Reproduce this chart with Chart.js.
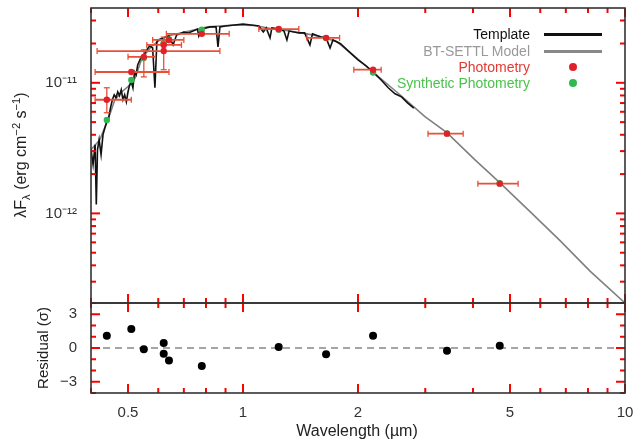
<!DOCTYPE html>
<html>
<head>
<meta charset="utf-8">
<script src="https://cdn.jsdelivr.net/npm/chart.js@4/dist/chart.umd.min.js"></script>
<style>
  body { margin: 0; background: #fff; }
  #wrap { position: relative; width: 638px; height: 445px; font-family: "Liberation Sans", Arial, sans-serif; color: #222; }
  canvas { position: absolute; left: 0; top: 0; }
  .lab { position: absolute; white-space: nowrap; }
  .rot { transform: translate(-50%, -50%) rotate(-90deg); }
  .leg { position: absolute; right: 108px; font-size: 14px; line-height: 14px; text-align: right; white-space: nowrap; transform: translateY(-50%); }
  .sym { position: absolute; }
  sub, sup { font-size: 70%; }
</style>
</head>
<body>
<div id="wrap">
  <canvas id="sed" width="638" height="445"></canvas>

  <div class="lab rot" style="left:21px; top:155px; font-size:16px;">λF<sub>λ</sub> (erg cm<sup>−2</sup> s<sup>−1</sup>)</div>
  <div class="lab rot" style="left:42px; top:348px; font-size:15px;">Residual (σ)</div>
  <div class="lab" style="left:357px; top:431px; font-size:16px; transform:translate(-50%,-50%);">Wavelength (µm)</div>

  <div class="leg" style="top:34px; color:#111;">Template</div>
  <div class="leg" style="top:51px; color:#999;">BT-SETTL Model</div>
  <div class="leg" style="top:67px; color:#e23a32;">Photometry</div>
  <div class="leg" style="top:83px; color:#4cc24c;">Synthetic Photometry</div>
  <div class="sym" style="left:544px; top:33px; width:58px; height:3px; background:#111;"></div>
  <div class="sym" style="left:544px; top:50px; width:58px; height:3px; background:#888;"></div>
  <div class="sym" style="left:569px; top:63px; width:8px; height:8px; border-radius:50%; background:#e0202a;"></div>
  <div class="sym" style="left:569px; top:79px; width:8px; height:8px; border-radius:50%; background:#30b850;"></div>
</div>

<script>
// ---- BT-SETTL model (smooth curve) ----
const modelWave = [0.400, 0.422, 0.443, 0.462, 0.482, 0.506, 0.522, 0.544, 0.578, 0.606, 0.636, 0.705, 0.810, 0.953,
    1.075, 1.198, 1.327, 1.470, 1.610, 1.762, 1.940, 2.190, 2.575, 2.994, 3.417, 4.043, 4.70, 5.74, 6.75, 8.10, 10.0];
const modelFlux = [3.08e-12, 3.67e-12, 5.22e-12, 7.42e-12, 8.54e-12, 9.65e-12, 1.09e-11, 1.55e-11, 1.92e-11, 2.13e-11,
    2.28e-11, 2.45e-11, 2.68e-11, 2.77e-11, 2.75e-11, 2.58e-11, 2.49e-11, 2.37e-11, 2.24e-11, 2.06e-11, 1.64e-11,
    1.21e-11, 8.10e-12, 5.50e-12, 4.15e-12, 2.58e-12, 1.72e-12, 9.83e-13, 6.22e-13, 3.61e-13, 2.06e-13];

// ---- template spectrum (noisy, with absorption dips) ----
const tmplWave = [0.400, 0.405, 0.410, 0.413, 0.416, 0.420, 0.425, 0.430, 0.435, 0.440, 0.445, 0.450, 0.455, 0.460,
    0.465, 0.470, 0.475, 0.480, 0.485, 0.490, 0.495, 0.500, 0.505, 0.510, 0.515, 0.520, 0.525, 0.530, 0.540, 0.550,
    0.560, 0.570, 0.580, 0.588, 0.595, 0.600, 0.620, 0.640, 0.656, 0.670, 0.700, 0.720, 0.760, 0.766, 0.780, 0.820,
    0.850, 0.860, 0.870, 0.900, 0.950, 1.000, 1.050, 1.100, 1.130, 1.150, 1.177, 1.190, 1.250, 1.280, 1.303, 1.320,
    1.400, 1.450, 1.497, 1.520, 1.600, 1.650, 1.690, 1.720, 1.800, 1.900, 2.000, 2.100, 2.200, 2.300, 2.400, 2.500,
    2.600, 2.700, 2.800];
const tmplFlux = [3.08e-12, 2.37e-12, 3.36e-12, 1.17e-12, 3.08e-12, 3.67e-12, 2.82e-12, 4.01e-12, 4.53e-12, 5.04e-12,
    5.41e-12, 6.45e-12, 7.42e-12, 8.10e-12, 7.68e-12, 8.54e-12, 7.96e-12, 8.84e-12, 7.42e-12, 8.10e-12, 7.16e-12,
    8.54e-12, 9.65e-12, 1.02e-11, 9.16e-12, 1.21e-11, 1.15e-11, 1.37e-11, 1.55e-11, 1.64e-11, 1.79e-11, 1.92e-11,
    1.85e-11, 9.16e-12, 2.06e-11, 2.13e-11, 2.21e-11, 2.28e-11, 1.95e-11, 2.32e-11, 2.45e-11, 2.41e-11, 2.58e-11,
    2.28e-11, 2.58e-11, 2.68e-11, 2.68e-11, 1.88e-11, 2.68e-11, 2.72e-11, 2.77e-11, 2.82e-11, 2.77e-11, 2.72e-11,
    2.45e-11, 2.63e-11, 2.21e-11, 2.63e-11, 2.58e-11, 2.49e-11, 2.13e-11, 2.49e-11, 2.41e-11, 2.41e-11, 1.95e-11,
    2.37e-11, 2.24e-11, 2.21e-11, 1.85e-11, 2.13e-11, 1.99e-11, 1.72e-11, 1.50e-11, 1.35e-11, 1.19e-11, 1.05e-11,
    9.16e-12, 8.24e-12, 7.80e-12, 7.00e-12, 6.40e-12];

// ---- photometry ----
const photWave   = [0.44, 0.51, 0.55, 0.62, 0.62, 0.64, 0.78, 1.24, 1.65, 2.19, 3.42, 4.70];
const photFlux   = [7.42e-12, 1.21e-11, 1.58e-11, 1.75e-11, 1.95e-11, 2.13e-11, 2.37e-11, 2.58e-11, 2.21e-11, 1.26e-11, 4.08e-12, 1.69e-12];
const photWaveLo = [0.41, 0.41, 0.50, 0.415, 0.56, 0.58, 0.63, 1.10, 1.47, 1.95, 3.05, 4.12];
const photWaveHi = [0.51, 0.64, 0.59, 0.87, 0.69, 0.70, 0.92, 1.40, 1.79, 2.30, 3.77, 5.25];
const photFluxLo = [5.90e-12, null, 1.11e-11, null, 1.26e-11, null, null, null, null, null, null, null];
const photFluxHi = [9.16e-12, null, 1.79e-11, null, 2.24e-11, null, null, null, null, null, null, null];
const synthFlux  = [5.2e-12, 1.05e-11, 1.55e-11, 2.0e-11, 2.0e-11, 2.15e-11, 2.55e-11, 2.55e-11, 2.2e-11, 1.2e-11, 4.1e-12, 1.7e-12];
const residual   = [1.1, 1.7, -0.1, 0.45, -0.5, -1.1, -1.6, 0.1, -0.55, 1.1, -0.25, 0.2];

// ---- axes ----
const xTicks = [0.4, 0.5, 0.6, 0.7, 0.8, 0.9, 1, 2, 3, 4, 5, 6, 7, 8, 9, 10];
const xLabelVals = [0.5, 1, 2, 5, 10];
const yTicks = [3e-13, 4e-13, 5e-13, 6e-13, 7e-13, 8e-13, 9e-13, 1e-12, 2e-12, 3e-12, 4e-12, 5e-12, 6e-12, 7e-12,
    8e-12, 9e-12, 1e-11, 2e-11, 3e-11];
const yLabelVals = [1e-11, 1e-12];
const yLabelText = ['10⁻¹¹', '10⁻¹²'];
const rTicks = [-4, -3, -2, -1, 0, 1, 2, 3, 4];
const rLabelVals = [-3, 0, 3];

const pts = (xs, ys) => xs.map((x, i) => ({ x: x, y: ys[i] }));

const hBars = [];
photWave.forEach((w, i) => {
    hBars.push({ x: photWaveLo[i], y: photFlux[i] }, { x: photWaveHi[i], y: photFlux[i] }, { x: photWaveHi[i], y: null });
});
const vBars = [];
photWave.forEach((w, i) => {
    if (photFluxLo[i] === null) return;
    vBars.push({ x: w, y: photFluxLo[i] }, { x: w, y: photFluxHi[i] }, { x: w, y: null });
});

const FONT = { family: '"Liberation Sans", Arial, sans-serif', size: 15 };
const INK = '#333';
const TICK = 'red';

const noPad = s => { s.paddingTop = 0; s.paddingBottom = 0; s.paddingLeft = 0; s.paddingRight = 0; };

const inTicks = {
    id: 'inTicks',
    afterDraw(chart) {
        const { ctx, chartArea: ca, scales } = chart;
        const x = scales.x, y = scales.y, yr = scales.yr;
        ctx.save();
        ctx.fillStyle = TICK;
        const vt = (px, py, len) => ctx.fillRect(px - 1, Math.min(py, py + len), 2, Math.abs(len));
        const ht = (px, py, len) => ctx.fillRect(Math.min(px, px + len), py - 1, Math.abs(len), 2);
        xTicks.forEach(v => {
            const px = x.getPixelForValue(v);
            const len = xLabelVals.includes(v) ? 9 : 5;
            vt(px, y.top, len);
            vt(px, y.bottom, -len);
            vt(px, yr.top, len);
            vt(px, yr.bottom, -len);
        });
        yTicks.forEach(v => {
            const py = y.getPixelForValue(v);
            const len = yLabelVals.includes(v) ? 9 : 5;
            ht(ca.left, py, len);
            ht(ca.right, py, -len);
        });
        rTicks.forEach(v => {
            const py = yr.getPixelForValue(v);
            const len = rLabelVals.includes(v) ? 9 : 5;
            ht(ca.left, py, len);
            ht(ca.right, py, -len);
        });
        ctx.strokeStyle = INK;
        ctx.lineWidth = 1.6;
        ctx.setLineDash([]);
        ctx.strokeRect(ca.left, y.top, ca.right - ca.left, y.bottom - y.top);
        ctx.strokeRect(ca.left, yr.top, ca.right - ca.left, yr.bottom - yr.top);
        ctx.restore();
    }
};

new Chart(document.getElementById('sed'), {
    type: 'line',
    data: {
        datasets: [
            { data: pts(photWave, photFlux), yAxisID: 'y', showLine: false, order: 0,
              pointRadius: 3.2, pointBackgroundColor: '#e0202a', pointBorderWidth: 0 },
            { data: vBars, yAxisID: 'y', order: 1, borderColor: '#e8503a', borderWidth: 1.3, spanGaps: false,
              pointStyle: 'line', pointRadius: 3, pointBorderColor: '#e8503a', pointBorderWidth: 1.3 },
            { data: hBars, yAxisID: 'y', order: 2, borderColor: '#e8503a', borderWidth: 1.8, spanGaps: false,
              pointStyle: 'line', pointRotation: 90, pointRadius: 3, pointBorderColor: '#e8503a', pointBorderWidth: 1.3 },
            { data: pts(photWave, synthFlux), yAxisID: 'y', showLine: false, order: 3,
              pointRadius: 3.2, pointBackgroundColor: '#30b850', pointBorderWidth: 0 },
            { data: pts(tmplWave, tmplFlux), yAxisID: 'y', order: 4, borderColor: '#111', borderWidth: 1.6, pointRadius: 0 },
            { data: pts(modelWave, modelFlux), yAxisID: 'y', order: 5, borderColor: '#808080', borderWidth: 1.6, pointRadius: 0 },
            { data: pts(photWave, residual), yAxisID: 'yr', showLine: false, order: 0,
              pointRadius: 4, pointBackgroundColor: '#000', pointBorderWidth: 0 },
            { data: pts([0.4, 10], [0, 0]), yAxisID: 'yr', order: 6, borderColor: '#888', borderWidth: 1.5,
              borderDash: [7, 5], pointRadius: 0 }
        ]
    },
    options: {
        responsive: false,
        animation: false,
        events: [],
        layout: { autoPadding: false, padding: { left: 0, right: 13, top: 8, bottom: 0 } },
        plugins: { legend: { display: false }, tooltip: { enabled: false } },
        scales: {
            x: {
                type: 'logarithmic', min: 0.4, max: 10,
                grid: { display: false }, border: { display: false },
                afterBuildTicks: s => { s.ticks = xTicks.map(v => ({ value: v })); },
                afterFit: s => { s.height = 52; noPad(s); },
                ticks: { autoSkip: false, maxRotation: 0, padding: 3, color: INK, font: FONT,
                         callback: v => xLabelVals.includes(v) ? String(v) : '' }
            },
            yr: {
                type: 'linear', min: -4, max: 4, position: 'left', stack: 'sed', stackWeight: 90,
                grid: { display: false }, border: { display: false },
                afterBuildTicks: s => { s.ticks = rTicks.map(v => ({ value: v })); },
                afterFit: s => { s.width = 91; noPad(s); },
                ticks: { autoSkip: false, padding: 6, color: INK, font: FONT,
                         callback: v => rLabelVals.includes(v) ? String(v).replace('-', '−') : '' }
            },
            y: {
                type: 'logarithmic', min: 2.06e-13, max: 3.74e-11, position: 'left', stack: 'sed', stackWeight: 295,
                grid: { display: false }, border: { display: false },
                afterBuildTicks: s => { s.ticks = yTicks.map(v => ({ value: v })); },
                afterFit: s => { s.width = 91; noPad(s); },
                ticks: { autoSkip: false, padding: 6, color: INK, font: FONT,
                         callback: v => { const k = yLabelVals.indexOf(v); return k >= 0 ? yLabelText[k] : ''; } }
            }
        }
    },
    plugins: [inTicks]
});
</script>
</body>
</html>
